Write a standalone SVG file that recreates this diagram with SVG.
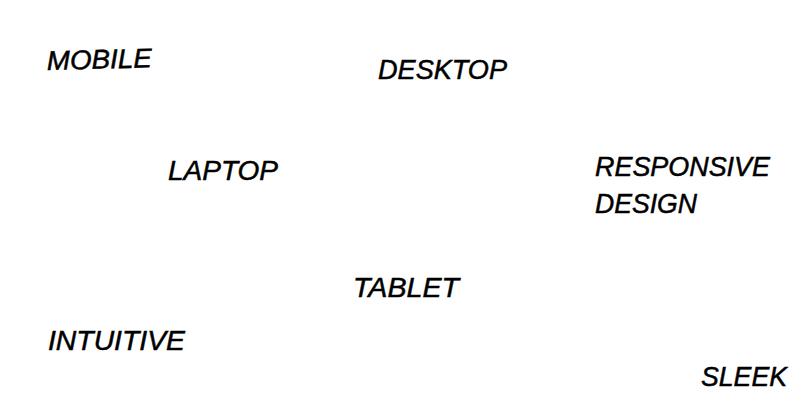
<svg xmlns="http://www.w3.org/2000/svg" width="800" height="400" viewBox="0 0 800 400">
<style>
.lbl{font-family:"Liberation Sans",Arial,sans-serif;font-style:italic;font-size:27px;fill:#000;stroke:#000;stroke-width:0.5;}
</style>
<rect width="800" height="400" fill="#fff"/>
<g id="connectors"></g>
<g id="mobile"><text class="lbl" x="47" y="70" transform="rotate(-1.5 47 70)" textLength="105" lengthAdjust="spacingAndGlyphs">MOBILE</text></g>
<g id="desktop"><text class="lbl" x="378" y="79" textLength="129" lengthAdjust="spacingAndGlyphs">DESKTOP</text></g>
<g id="laptop"><text class="lbl" x="168" y="180" textLength="110" lengthAdjust="spacingAndGlyphs">LAPTOP</text></g>
<g id="responsive-design"><text class="lbl" x="595" y="176" textLength="175" lengthAdjust="spacingAndGlyphs">RESPONSIVE</text><text class="lbl" x="595" y="213" textLength="102" lengthAdjust="spacingAndGlyphs">DESIGN</text></g>
<g id="tablet"><text class="lbl" x="353" y="297" textLength="106" lengthAdjust="spacingAndGlyphs">TABLET</text></g>
<g id="intuitive"><text class="lbl" x="48" y="350" textLength="137" lengthAdjust="spacingAndGlyphs">INTUITIVE</text></g>
<g id="sleek"><text class="lbl" x="701" y="386" textLength="86" lengthAdjust="spacingAndGlyphs">SLEEK</text></g>
</svg>
